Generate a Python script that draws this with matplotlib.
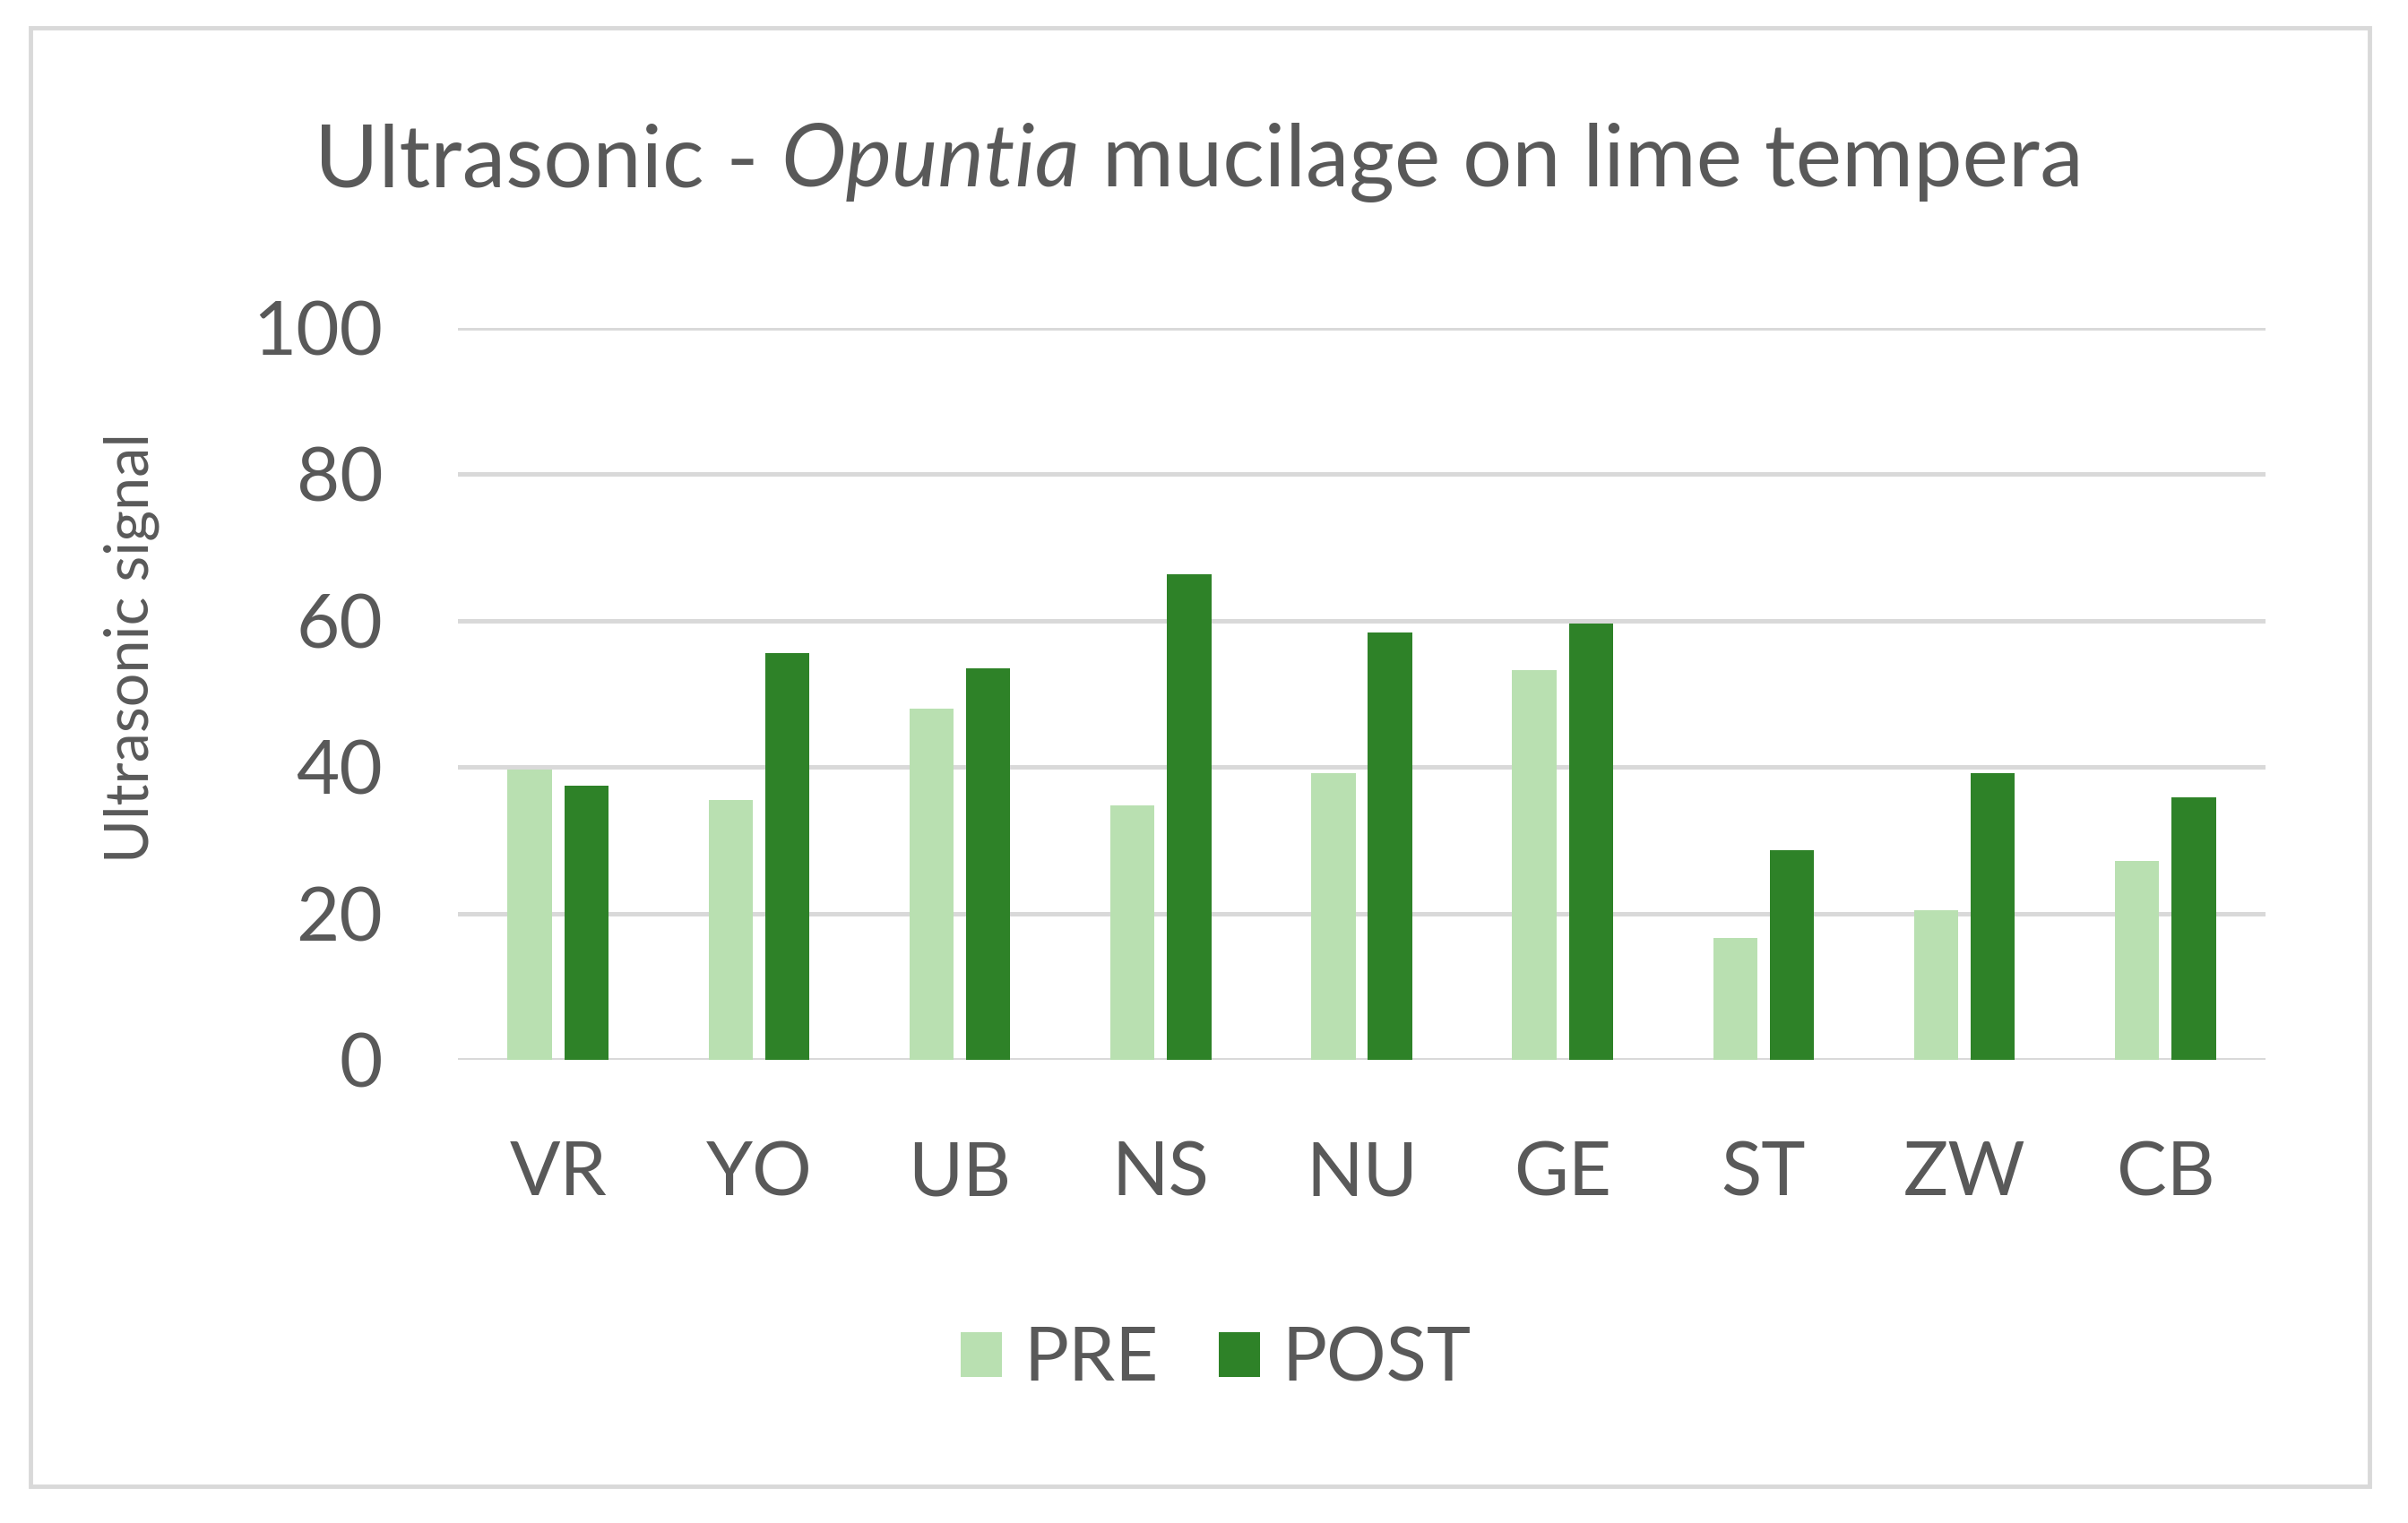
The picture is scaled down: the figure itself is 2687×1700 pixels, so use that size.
import matplotlib
matplotlib.use("Agg")
import matplotlib.pyplot as plt
import numpy as np
from matplotlib.offsetbox import TextArea, HPacker, AnchoredOffsetbox
from matplotlib.patches import Rectangle

categories = ["VR", "YO", "UB", "NS", "NU", "GE", "ST", "ZW", "CB"]
pre = [39.7, 35.5, 48.0, 34.7, 39.1, 53.2, 16.7, 20.5, 27.2]
post = [37.4, 55.5, 53.5, 66.3, 58.3, 59.6, 28.7, 39.2, 35.8]
series_names = ["PRE", "POST"]
yticks = [0, 20, 40, 60, 80, 100]

PRE_COLOR = "#B9E0B1"
POST_COLOR = "#2E8228"
TEXT = "#595959"
GRID = "#D9D9D9"
FONT = "Lato"

plt.rcParams['font.family'] = [FONT, 'DejaVu Sans']

fig = plt.figure(figsize=(26.87, 17), dpi=100)
fig.patch.set_facecolor("white")

ax = fig.add_axes([0.190, 0.304, 0.751, 0.481])
x = np.arange(len(categories))
w = 0.22
off = 0.141
ax.bar(x - off, pre, width=w, color=PRE_COLOR, label=series_names[0], zorder=3)
ax.bar(x + off, post, width=w, color=POST_COLOR, label=series_names[1], zorder=3)

ax.set_xlim(-0.5, len(categories) - 0.5)
ax.set_ylim(0, 100)
ax.set_yticks(yticks)
ax.set_xticks(x)
ax.set_xticklabels(categories)
for s in ax.spines.values():
    s.set_visible(False)
ax.yaxis.grid(True, color=GRID, linewidth=3.6, zorder=0)
ax.set_axisbelow(True)
ax.tick_params(axis='both', length=0, colors=TEXT, labelsize=60)
ax.tick_params(axis='y', pad=60)
ax.tick_params(axis='x', pad=65)
ax.set_ylabel("Ultrasonic signal", fontsize=48, color=TEXT, labelpad=0)
ax.yaxis.set_label_coords(-0.165, 0.563)

# Title with italic part
TS = 70
t1 = TextArea("Ultrasonic - ", textprops=dict(fontsize=TS, color=TEXT, family=FONT))
t2 = TextArea("Opuntia", textprops=dict(fontsize=TS, color=TEXT, family=FONT, style='italic'))
t3 = TextArea(" mucilage on lime tempera", textprops=dict(fontsize=TS, color=TEXT, family=FONT))
box = HPacker(children=[t1, t2, t3], align="baseline", pad=0, sep=0)
ab = AnchoredOffsetbox(loc='center', child=box, frameon=False,
                       bbox_to_anchor=(0.498, 0.893), bbox_transform=fig.transFigure, pad=0, borderpad=0)
fig.add_artist(ab)

leg = fig.legend(loc='center', bbox_to_anchor=(0.505, 0.107), ncol=2, frameon=False,
                 fontsize=60, handlelength=0.55, handleheight=0.55, handletextpad=0.3,
                 columnspacing=0.8)
for t in leg.get_texts():
    t.set_color(TEXT)

# Outer border
fig.add_artist(Rectangle((0.0128, 0.024), 0.9712, 0.958, transform=fig.transFigure,
                         fill=False, edgecolor=GRID, linewidth=3.5))

fig.savefig("out.png", dpi=100)
